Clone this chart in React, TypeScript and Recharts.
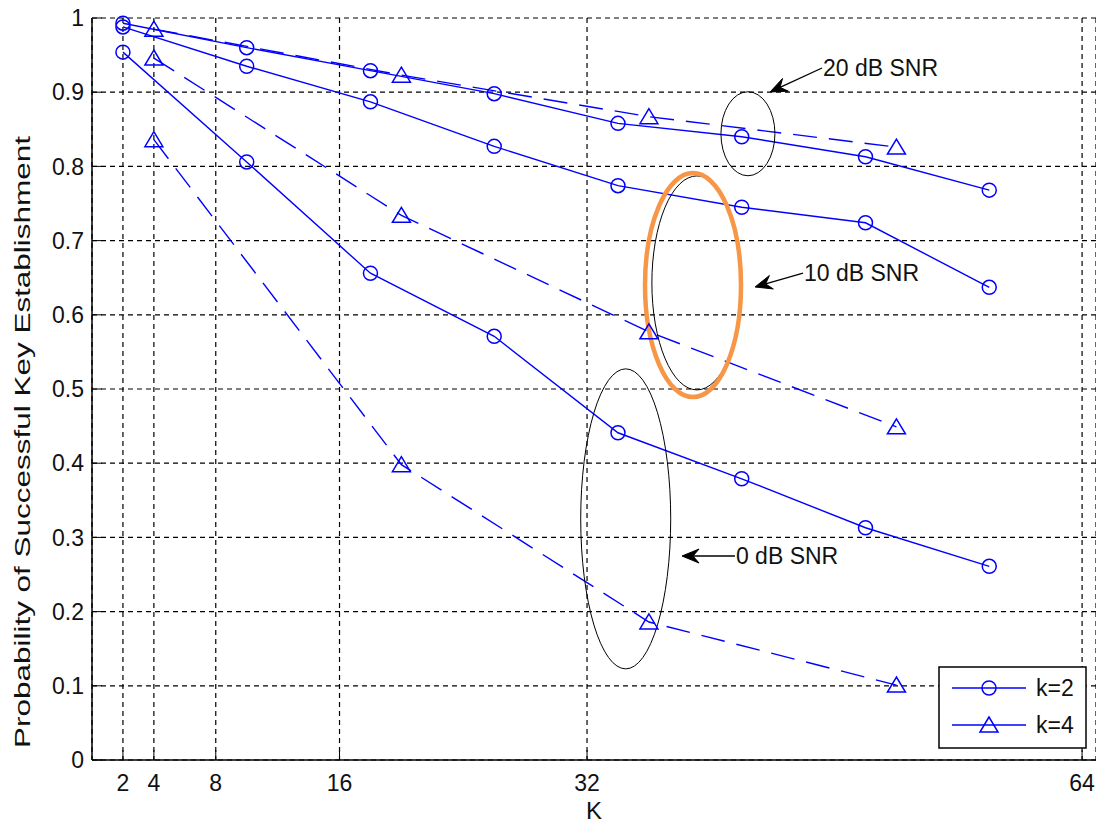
import { LineChart, Line, XAxis, YAxis, CartesianGrid, ReferenceDot, ReferenceLine, Legend, Label } from "recharts";

const FONT = "'Liberation Sans', Arial, sans-serif";
const BLUE = "#0000ff";

// K values for each family
const K2_X = [2, 10, 18, 26, 34, 42, 50, 58];
const K4_X = [4, 20, 36, 52];

// k=2 (solid, circles)
const K2_20DB = [0.993, 0.96, 0.929, 0.898, 0.858, 0.84, 0.813, 0.768];
const K2_10DB = [0.988, 0.935, 0.887, 0.827, 0.774, 0.745, 0.724, 0.637];
const K2_0DB = [0.954, 0.806, 0.656, 0.571, 0.441, 0.379, 0.313, 0.261];

// k=4 (dashed, triangles)
const K4_20DB = [0.985, 0.923, 0.867, 0.826];
const K4_10DB = [0.946, 0.734, 0.577, 0.449];
const K4_0DB = [0.836, 0.398, 0.186, 0.101];

const X_TICKS = [2, 4, 8, 16, 32, 64];
const Y_TICKS = [0, 0.1, 0.2, 0.3, 0.4, 0.5, 0.6, 0.7, 0.8, 0.9, 1];

// annotation ellipses (centre in data units, radii in px)
const ELLIPSES = [
  { x: 42.4, y: 0.844, rx: 27, ry: 42, color: "#000", w: 1 },
  { x: 39.1, y: 0.643, rx: 45, ry: 107, color: "#000", w: 1 },
  { x: 38.85, y: 0.64, rx: 48, ry: 112, color: "#F79646", w: 4.5 },
  { x: 34.5, y: 0.325, rx: 45, ry: 150, color: "#000", w: 1 },
];

const ARROWS = [
  { text: "20 dB SNR", from: [47.19, 0.9326], to: [43.83, 0.9003] },
  { text: "10 dB SNR", from: [45.96, 0.6563], to: [42.86, 0.6375] },
  { text: "0 dB SNR", from: [41.56, 0.2749], to: [38.14, 0.2749] },
];

const zip = (xs: number[], ys: number[]) => xs.map((x, i) => ({ x, y: ys[i] }));

const SERIES = [
  { name: "k2-20", data: zip(K2_X, K2_20DB), dashed: false },
  { name: "k2-10", data: zip(K2_X, K2_10DB), dashed: false },
  { name: "k2-0", data: zip(K2_X, K2_0DB), dashed: false },
  { name: "k4-20", data: zip(K4_X, K4_20DB), dashed: true },
  { name: "k4-10", data: zip(K4_X, K4_10DB), dashed: true },
  { name: "k4-0", data: zip(K4_X, K4_0DB), dashed: true },
];

function CircleMark({ cx, cy }: { cx: number; cy: number }) {
  return <circle cx={cx} cy={cy} r={7} fill="none" stroke={BLUE} strokeWidth={1.5} />;
}

function TriMark({ cx, cy }: { cx: number; cy: number }) {
  const pts = `${cx},${cy - 8} ${cx - 9},${cy + 7} ${cx + 9},${cy + 7}`;
  return <polygon points={pts} fill="none" stroke={BLUE} strokeWidth={1.5} />;
}

function ArrowShape(props: any) {
  const { x1, y1, x2, y2, text } = props;
  const dx = x2 - x1, dy = y2 - y1;
  const len = Math.hypot(dx, dy) || 1;
  const ux = dx / len, uy = dy / len;
  const px = -uy, py = ux;
  const L = 17, W = 7, N = 11;
  const bx = x2 - ux * L, by = y2 - uy * L;
  const nx = x2 - ux * N, ny = y2 - uy * N;
  const pts = `${x2},${y2} ${bx + px * W},${by + py * W} ${nx},${ny} ${bx - px * W},${by - py * W}`;
  return (
    <g>
      <line x1={x1} y1={y1} x2={nx} y2={ny} stroke="#000" strokeWidth={1.3} />
      <polygon points={pts} fill="#000" stroke="#000" strokeWidth={1} />
      <text x={x1 + 1} y={y1} dominantBaseline="central" fontFamily={FONT} fontSize={23} fill="#111">
        {text}
      </text>
    </g>
  );
}

function LegendBox() {
  return (
    <svg width={150} height={84} style={{ display: "block" }}>
      <rect x={1} y={1} width={147} height={81} fill="#fff" stroke="#000" strokeWidth={1.5} />
      <line x1={14} y1={22} x2={88} y2={22} stroke={BLUE} strokeWidth={1.5} />
      <CircleMark cx={51} cy={22} />
      <text x={98} y={22} dominantBaseline="central" fontFamily={FONT} fontSize={23} fill="#111">k=2</text>
      <line x1={14} y1={59} x2={88} y2={59} stroke={BLUE} strokeWidth={1.5} />
      <TriMark cx={51} cy={59} />
      <text x={98} y={59} dominantBaseline="central" fontFamily={FONT} fontSize={23} fill="#111">k=4</text>
    </svg>
  );
}

export default function App() {
  return (
    <div style={{ position: "absolute", left: 0, top: 0, width: 1096, height: 828, background: "#fff" }}>
      <LineChart width={1096} height={828} margin={{ top: 18, right: 0, left: 0, bottom: 0 }}>
        <CartesianGrid stroke="#000" strokeDasharray="5 4" strokeWidth={1.2} />
        <XAxis
          dataKey="x"
          type="number"
          domain={[0, 64.9]}
          ticks={X_TICKS}
          height={68}
          tickSize={-10}
          tickMargin={25}
          tick={{ fontFamily: FONT, fontSize: 23, fill: "#111" }}
          axisLine={{ stroke: "#000", strokeWidth: 1.5 }}
          tickLine={{ stroke: "#000" }}
        >
          <Label
            content={({ viewBox }: any) => (
              <text x={viewBox.x + viewBox.width / 2} y={viewBox.y + 50} textAnchor="middle" dominantBaseline="central" fontFamily={FONT} fontSize={24} fill="#111">K</text>
            )}
          />
        </XAxis>
        <YAxis
          type="number"
          domain={[0, 1]}
          ticks={Y_TICKS}
          width={92}
          tickSize={-10}
          tickMargin={18}
          tick={{ fontFamily: FONT, fontSize: 23, fill: "#111" }}
          axisLine={{ stroke: "#000", strokeWidth: 1.5 }}
          tickLine={{ stroke: "#000" }}
        >
          <Label
            content={({ viewBox }: any) => {
              const x = viewBox.x + 22;
              const y = viewBox.y + viewBox.height / 2 + 53;
              return (
                <text x={x} y={y} transform={`rotate(-90 ${x} ${y})`} textAnchor="middle" dominantBaseline="central" fontFamily={FONT} fontSize={22} textLength={612} lengthAdjust="spacingAndGlyphs" fill="#111">
                  Probability of Successful Key Establishment
                </text>
              );
            }}
          />
        </YAxis>
        {SERIES.map((s) => (
          <Line
            key={s.name}
            data={s.data}
            dataKey="y"
            type="linear"
            stroke={BLUE}
            strokeWidth={1.4}
            strokeDasharray={s.dashed ? "24 12" : undefined}
            dot={(p: any) => (s.dashed
              ? <TriMark key={`${s.name}-${p.index}`} cx={p.cx} cy={p.cy} />
              : <CircleMark key={`${s.name}-${p.index}`} cx={p.cx} cy={p.cy} />)}
            activeDot={false}
            legendType="none"
            isAnimationActive={false}
          />
        ))}
        {ELLIPSES.map((e, i) => (
          <ReferenceDot
            key={`el-${i}`}
            x={e.x}
            y={e.y}
            r={1}
            ifOverflow="visible"
            shape={(p: any) => (
              <ellipse cx={p.cx} cy={p.cy} rx={e.rx} ry={e.ry} fill="none" stroke={e.color} strokeWidth={e.w} />
            )}
          />
        ))}
        {ARROWS.map((a, i) => (
          <ReferenceLine
            key={`ar-${i}`}
            segment={[{ x: a.from[0], y: a.from[1] }, { x: a.to[0], y: a.to[1] }]}
            ifOverflow="visible"
            shape={(p: any) => <ArrowShape {...p} text={a.text} />}
          />
        ))}
        <Legend
          layout="vertical"
          align="center"
          verticalAlign="middle"
          content={() => <LegendBox />}
          wrapperStyle={{ position: "absolute", left: 938, top: 666, width: 150, height: 84 }}
        />
      </LineChart>
    </div>
  );
}
